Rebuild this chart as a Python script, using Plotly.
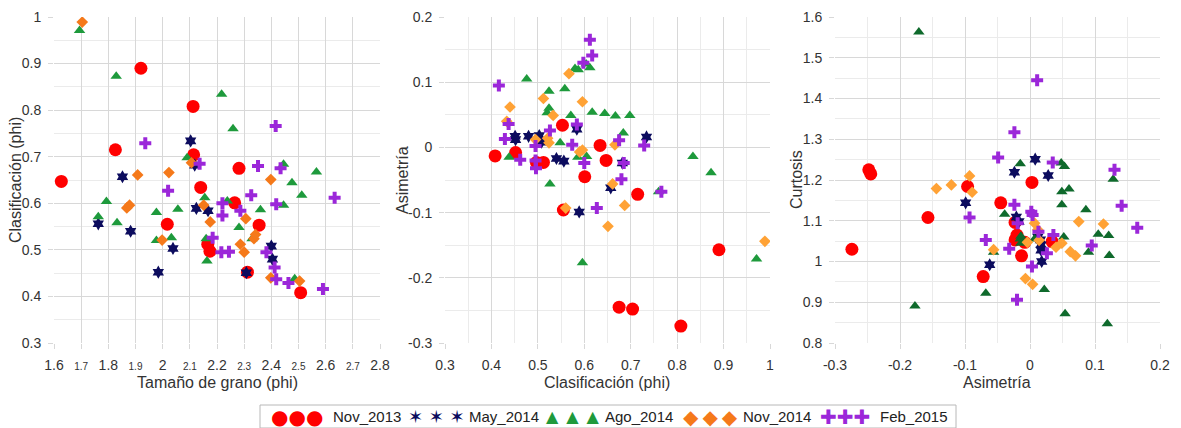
import plotly.graph_objects as go

# ---------------- data ----------------
SERIES = ["Nov_2013", "May_2014", "Ago_2014", "Nov_2014", "Feb_2015"]

# Nov_2013
NOV13_MEAN = [2.508, 2.312, 2.174, 2.166, 2.355, 2.017, 2.265, 2.140, 1.627, 2.281, 2.114, 1.826, 2.112, 1.920]
NOV13_SORT = [0.408, 0.452, 0.497, 0.512, 0.553, 0.555, 0.601, 0.634, 0.647, 0.675, 0.704, 0.715, 0.808, 0.890]
NOV13_SKEW = [-0.013, -0.008, -0.023, -0.023, 0.034, -0.096, -0.045, 0.003, -0.020, -0.245, -0.248, -0.072, -0.274, -0.157]
NOV13_KURT = [1.014, 1.047, 1.096, 1.053, 1.049, 1.184, 1.144, 1.194, 1.065, 1.215, 1.225, 0.963, 1.030, 1.108]

# May_2014
MAY14_MEAN = [2.308, 1.984, 2.404, 2.038, 2.400, 1.882, 1.763, 2.167, 2.124, 1.852, 2.118, 2.103]
MAY14_SORT = [0.451, 0.452, 0.480, 0.503, 0.508, 0.540, 0.556, 0.584, 0.589, 0.657, 0.682, 0.734]
MAY14_SKEW = [0.017, 0.012, 0.017, 0.018, 0.008, -0.017, -0.021, 0.028, -0.099, -0.062, -0.024, 0.016]
MAY14_KURT = [1.041, 1.060, 1.028, 1.000, 1.251, 1.098, 1.109, 1.211, 1.144, 0.992, 1.219, 1.053]

# Ago_2014
AGO14_MEAN = [2.486, 2.163, 1.977, 2.160, 2.329, 2.032, 2.281, 1.832, 1.763, 1.977, 2.360, 2.056, 2.445,
              1.793, 2.238, 2.155, 2.512, 2.476, 2.566, 2.445, 2.090, 2.259, 2.217, 1.829, 1.694]
AGO14_SORT = [0.438, 0.476, 0.520, 0.524, 0.524, 0.526, 0.548, 0.558, 0.571, 0.580, 0.586, 0.587, 0.596,
              0.604, 0.605, 0.612, 0.617, 0.644, 0.667, 0.684, 0.698, 0.760, 0.834, 0.873, 0.971]
AGO14_SKEW = [-0.015, 0.105, 0.053, 0.086, 0.060, -0.056, 0.007, 0.090, 0.049, 0.121, -0.015, 0.119, -0.177,
              0.128, -0.014, 0.122, 0.054, 0.052, 0.048, 0.022, 0.049, -0.068, -0.014, -0.039, -0.171]
AGO14_KURT = [1.055, 1.067, 1.233, 1.127, 1.178, 1.023, 1.055, 1.023, 1.171, 1.064, 1.240, 0.847, 0.891,
              1.202, 1.045, 1.015, 0.872, 1.060, 1.242, 0.931, 1.139, 0.922, 1.062, 1.116, 1.563]

# Nov_2014
NOV14_MEAN = [2.504, 2.398, 2.300, 2.286, 1.998, 2.336, 2.342, 2.175, 2.306, 1.868, 1.878, 2.151, 2.398,
              1.908, 2.023, 2.106, 1.704]
NOV14_SORT = [0.433, 0.440, 0.495, 0.512, 0.521, 0.524, 0.533, 0.560, 0.567, 0.590, 0.596, 0.596, 0.651,
              0.661, 0.666, 0.687, 0.989]
NOV14_SKEW = [0.040, 0.062, 0.012, 0.075, 0.014, 0.007, 0.049, -0.093, 0.113, -0.007, -0.004, 0.070, -0.121,
              -0.056, 0.004, -0.089, -0.144]
NOV14_KURT = [1.035, 1.024, 1.078, 1.098, 1.052, 1.094, 1.045, 1.210, 1.092, 0.958, 1.047, 1.014, 1.188,
              1.029, 0.944, 1.170, 1.179]

# Feb_2015
FEB15_MEAN = [2.590, 2.463, 2.418, 2.412, 2.216, 2.382, 2.244, 2.184, 2.220, 2.286, 2.418, 2.220, 2.633,
              2.326, 2.020, 2.434, 2.351, 2.136, 1.936, 2.416]
FEB15_SORT = [0.416, 0.429, 0.437, 0.462, 0.495, 0.495, 0.496, 0.526, 0.574, 0.584, 0.598, 0.600, 0.612,
              0.617, 0.627, 0.675, 0.680, 0.685, 0.729, 0.766]
FEB15_SKEW = [0.095, 0.013, 0.036, -0.019, 0.002, -0.020, -0.032, 0.026, 0.004, 0.035, 0.130, -0.024, 0.165,
              0.141, -0.093, 0.011, -0.049, -0.024, 0.003, -0.068]
FEB15_KURT = [1.039, 1.073, 1.065, 1.094, 1.122, 0.906, 1.031, 1.020, 1.114, 1.243, 1.225, 1.139, 1.083,
              1.137, 1.108, 1.445, 1.255, 1.317, 0.988, 1.053]

# tick labels
X1_TICKS = [1.6, 1.7, 1.8, 1.9, 2.0, 2.1, 2.2, 2.3, 2.4, 2.5, 2.6, 2.7, 2.8]
X1_LABELS = ["1.6", "1.7", "1.8", "1.9", "2", "2.1", "2.2", "2.3", "2.4", "2.5", "2.6", "2.7", "2.8"]
X1_SMALL = ["1.7", "1.9", "2.1", "2.3", "2.5", "2.7"]
Y1_TICKS = [0.3, 0.4, 0.5, 0.6, 0.7, 0.8, 0.9, 1.0]
Y1_LABELS = ["0.3", "0.4", "0.5", "0.6", "0.7", "0.8", "0.9", "1"]
X2_TICKS = [0.3, 0.4, 0.5, 0.6, 0.7, 0.8, 0.9, 1.0]
X2_LABELS = ["0.3", "0.4", "0.5", "0.6", "0.7", "0.8", "0.9", "1"]
Y2_TICKS = [-0.3, -0.2, -0.1, 0.0, 0.1, 0.2]
Y2_LABELS = ["-0.3", "-0.2", "-0.1", "0", "0.1", "0.2"]
X3_TICKS = [-0.3, -0.2, -0.1, 0.0, 0.1, 0.2]
X3_LABELS = ["-0.3", "-0.2", "-0.1", "0", "0.1", "0.2"]
Y3_TICKS = [0.8, 0.9, 1.0, 1.1, 1.2, 1.3, 1.4, 1.5, 1.6]
Y3_LABELS = ["0.8", "0.9", "1", "1.1", "1.2", "1.3", "1.4", "1.5", "1.6"]

# ---------------- styling ----------------
DATA = [
    (NOV13_MEAN, NOV13_SORT, NOV13_SKEW, NOV13_KURT),
    (MAY14_MEAN, MAY14_SORT, MAY14_SKEW, MAY14_KURT),
    (AGO14_MEAN, AGO14_SORT, AGO14_SKEW, AGO14_KURT),
    (NOV14_MEAN, NOV14_SORT, NOV14_SKEW, NOV14_KURT),
    (FEB15_MEAN, FEB15_SORT, FEB15_SKEW, FEB15_KURT),
]
SYMBOLS = ["circle", "hexagram", "triangle-up", "diamond", "cross"]
SIZES = [13, 10, 10, 9, 10]
COLORS = [
    ["#ff0000", "#0c0c5e", "#1e9a3c", "#f5791a", "#9b27d9"],  # panel 1
    ["#ff0000", "#0c0c5e", "#1e9a3c", "#ffa235", "#9b27d9"],  # panel 2
    ["#ff0000", "#0c0c5e", "#0f6a2c", "#ffa235", "#9b27d9"],  # panel 3
]

W, H = 1181, 428
FONT = "Liberation Sans, Arial, sans-serif"
TXT = "#333333"

fig = go.Figure()

for p in range(3):
    for s, (mean, sort, skew, kurt) in enumerate(DATA):
        xs, ys = [(mean, sort), (sort, skew), (skew, kurt)][p]
        fig.add_trace(go.Scatter(
            x=xs, y=ys, mode="markers", name=SERIES[s], showlegend=False,
            xaxis="x" if p == 0 else f"x{p+1}", yaxis="y" if p == 0 else f"y{p+1}",
            marker=dict(symbol=SYMBOLS[s], size=SIZES[s], color=COLORS[p][s],
                        line=dict(width=0)),
            hoverinfo="x+y+name",
        ))

ydom = [1 - 343 / H, 1 - 17 / H]
xdoms = [[54 / W, 380 / W], [445 / W, 770 / W], [835 / W, 1160 / W]]

GRID = "#d8d8d8"
MINOR = "#ebebeb"


def axis(dom, rng, vals, labels, minor_dtick=None, **kw):
    d = dict(domain=dom, range=rng, tickmode="array", tickvals=vals, ticktext=labels,
             showgrid=True, gridcolor=GRID, gridwidth=1,
             zeroline=False, showline=False, ticks="outside", ticklen=5, tickcolor=GRID,
             tickfont=dict(family=FONT, size=14, color=TXT), automargin=False,
             ticklabelstandoff=4, fixedrange=True)
    if minor_dtick:
        d["minor"] = dict(dtick=minor_dtick, showgrid=True, gridcolor=MINOR, gridwidth=1, ticks="")
    d.update(kw)
    return d


ticktext1 = [f"<span style='font-size:10px'>{t}</span>" if t in X1_SMALL else t for t in X1_LABELS]

fig.update_layout(
    width=W, height=H,
    margin=dict(l=0, r=0, t=0, b=0),
    paper_bgcolor="white", plot_bgcolor="white",
    font=dict(family=FONT, color=TXT),
    xaxis=axis(xdoms[0], [1.6, 2.8], X1_TICKS, ticktext1, anchor="y"),
    yaxis=axis(ydom, [0.3, 1.0], Y1_TICKS, Y1_LABELS, 0.05, anchor="x"),
    xaxis2=axis(xdoms[1], [0.3, 1.0], X2_TICKS, X2_LABELS, 0.05, anchor="y2"),
    yaxis2=axis(ydom, [-0.3, 0.2], Y2_TICKS, Y2_LABELS, 0.05, anchor="x2"),
    xaxis3=axis(xdoms[2], [-0.3, 0.2], X3_TICKS, X3_LABELS, 0.05, anchor="y3"),
    yaxis3=axis(ydom, [0.8, 1.6], Y3_TICKS, Y3_LABELS, 0.05, anchor="x3"),
)

ann = []
tfont = dict(family=FONT, size=16, color=TXT)
for txt, cx in [("Tamaño de grano (phi)", 217), ("Clasificación (phi)", 607), ("Asimetría", 997)]:
    ann.append(dict(text=txt, x=cx / W, y=1 - 382 / H, xref="paper", yref="paper",
                    xanchor="center", yanchor="middle", showarrow=False, font=tfont))
for txt, cx in [("Clasificación (phi)", 16), ("Asimetría", 403), ("Curtosis", 797)]:
    ann.append(dict(text=txt, x=cx / W, y=1 - 180 / H, xref="paper", yref="paper", textangle=-90,
                    xanchor="center", yanchor="middle", showarrow=False, font=tfont))

# ---- legend (boxed row with three symbols per series) ----
TH = "\u2009"
LEG_GLYPHS = ["●●●", " ".join("✶✶✶"), "\u2002".join("▲▲▲"), TH.join("◆◆◆"), "✚✚✚"]
LEG_GSIZE = [20, 18, 16, 20, 20]
LEG_GX = [269, 406, 544, 681, 818]
LEG_TX = [331, 467, 603, 741, 878]
LEG_Y = 416.5
shapes = [dict(type="rect", xref="paper", yref="paper", x0=260 / W, x1=956 / W,
               y0=1 - 428 / H, y1=1 - 405 / H, line=dict(color="#b8b8b8", width=1),
               fillcolor="white", layer="below")]
for s in range(5):
    ann.append(dict(text=LEG_GLYPHS[s], x=LEG_GX[s] / W, y=1 - LEG_Y / H, xref="paper", yref="paper",
                    xanchor="left", yanchor="middle", showarrow=False,
                    font=dict(family="DejaVu Sans", size=LEG_GSIZE[s], color=COLORS[0][s])))
    ann.append(dict(text=SERIES[s], x=LEG_TX[s] / W, y=1 - LEG_Y / H, xref="paper", yref="paper",
                    xanchor="left", yanchor="middle", showarrow=False,
                    font=dict(family=FONT, size=15, color="#222222")))

fig.update_layout(annotations=ann, shapes=shapes)

fig.write_html("out.html", post_script="document.body.style.margin='0';",
               config={"displayModeBar": False})
